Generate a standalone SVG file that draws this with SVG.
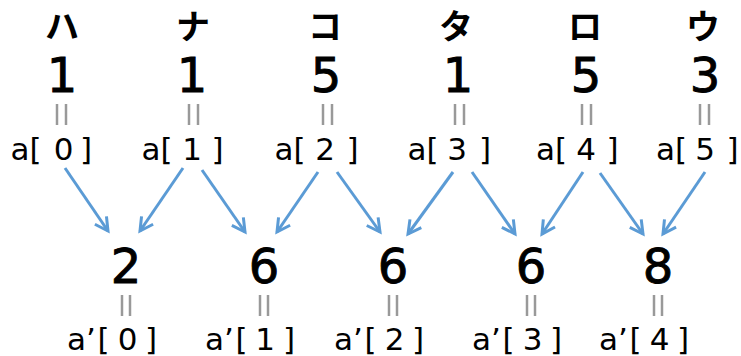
<svg xmlns="http://www.w3.org/2000/svg" width="741" height="356" viewBox="0 0 741 356">
<style>
.kana{font-family:"Noto Sans CJK JP","Noto Sans",sans-serif;font-weight:bold;font-size:34px;fill:#000;text-anchor:middle}
.num{font-family:"DejaVu Sans",sans-serif;font-size:48px;fill:#000;stroke:#000;stroke-width:0.9;text-anchor:middle}
.lbl{font-family:"DejaVu Sans",sans-serif;font-size:31px;fill:#000;text-anchor:middle}
.eq{stroke:#999;stroke-width:2.5}
.arr{stroke:#5B9BD5;stroke-width:3;fill:none;marker-end:url(#ah)}
</style>
<defs>
<marker id="ah" viewBox="0 0 18 18" refX="15" refY="9" markerWidth="18" markerHeight="18" markerUnits="userSpaceOnUse" orient="auto">
<path d="M2,2 L15,9 L2,16" fill="none" stroke="#5B9BD5" stroke-width="3"/>
</marker>
</defs>
<rect width="741" height="356" fill="#fff"/>

<g id="a0">
<text class="kana" x="62" y="39">ハ</text>
<text class="num" x="62" y="92">1</text>
<line class="eq" x1="57" y1="104" x2="57" y2="125"/><line class="eq" x1="66" y1="104" x2="66" y2="125"/>
<text class="lbl" y="160"><tspan x="26">a[</tspan><tspan x="63.5">0</tspan><tspan x="86">]</tspan></text>
</g>
<g id="a1">
<text class="kana" x="193" y="39">ナ</text>
<text class="num" x="192" y="92">1</text>
<line class="eq" x1="189" y1="104" x2="189" y2="125"/><line class="eq" x1="198" y1="104" x2="198" y2="125"/>
<text class="lbl" y="160"><tspan x="157">a[</tspan><tspan x="192">1</tspan><tspan x="217.5">]</tspan></text>
</g>
<g id="a2">
<text class="kana" x="325" y="39">コ</text>
<text class="num" x="326" y="92">5</text>
<line class="eq" x1="323" y1="104" x2="323" y2="125"/><line class="eq" x1="332" y1="104" x2="332" y2="125"/>
<text class="lbl" y="160"><tspan x="290">a[</tspan><tspan x="325">2</tspan><tspan x="352.5">]</tspan></text>
</g>
<g id="a3">
<text class="kana" x="456" y="39">タ</text>
<text class="num" x="458" y="92">1</text>
<line class="eq" x1="455" y1="104" x2="455" y2="125"/><line class="eq" x1="464" y1="104" x2="464" y2="125"/>
<text class="lbl" y="160"><tspan x="423">a[</tspan><tspan x="457">3</tspan><tspan x="485">]</tspan></text>
</g>
<g id="a4">
<text class="kana" x="585" y="39">ロ</text>
<text class="num" x="586" y="92">5</text>
<line class="eq" x1="582" y1="104" x2="582" y2="125"/><line class="eq" x1="591" y1="104" x2="591" y2="125"/>
<text class="lbl" y="160"><tspan x="551.5">a[</tspan><tspan x="586">4</tspan><tspan x="612.5">]</tspan></text>
</g>
<g id="a5">
<text class="kana" x="703" y="39">ウ</text>
<text class="num" x="705" y="92">3</text>
<line class="eq" x1="700" y1="104" x2="700" y2="125"/><line class="eq" x1="709" y1="104" x2="709" y2="125"/>
<text class="lbl" y="160"><tspan x="671.5">a[</tspan><tspan x="705">5</tspan><tspan x="732.5">]</tspan></text>
</g>

<g id="b0">
<text class="num" x="126" y="283">2</text>
<line class="eq" x1="122" y1="295" x2="122" y2="316"/><line class="eq" x1="130" y1="295" x2="130" y2="316"/>
<text class="lbl" y="350"><tspan x="81.5">a’</tspan><tspan x="103.5">[</tspan><tspan x="127.5">0</tspan><tspan x="151">]</tspan></text>
</g>
<g id="b1">
<text class="num" x="264" y="283">6</text>
<line class="eq" x1="260" y1="295" x2="260" y2="316"/><line class="eq" x1="268" y1="295" x2="268" y2="316"/>
<text class="lbl" y="350"><tspan x="219.5">a’</tspan><tspan x="241.5">[</tspan><tspan x="265">1</tspan><tspan x="289">]</tspan></text>
</g>
<g id="b2">
<text class="num" x="393" y="283">6</text>
<line class="eq" x1="389" y1="295" x2="389" y2="316"/><line class="eq" x1="397" y1="295" x2="397" y2="316"/>
<text class="lbl" y="350"><tspan x="348.5">a’</tspan><tspan x="370.5">[</tspan><tspan x="394.5">2</tspan><tspan x="418">]</tspan></text>
</g>
<g id="b3">
<text class="num" x="531" y="283">6</text>
<line class="eq" x1="527" y1="295" x2="527" y2="316"/><line class="eq" x1="535" y1="295" x2="535" y2="316"/>
<text class="lbl" y="350"><tspan x="486.5">a’</tspan><tspan x="508.5">[</tspan><tspan x="532.5">3</tspan><tspan x="556">]</tspan></text>
</g>
<g id="b4">
<text class="num" x="658" y="283">8</text>
<line class="eq" x1="654" y1="295" x2="654" y2="316"/><line class="eq" x1="662" y1="295" x2="662" y2="316"/>
<text class="lbl" y="350"><tspan x="613.5">a’</tspan><tspan x="635.5">[</tspan><tspan x="659.5">4</tspan><tspan x="683">]</tspan></text>
</g>

<g id="connectors">
<line class="arr" x1="65" y1="168" x2="108" y2="231"/>
<line class="arr" x1="183" y1="168" x2="140" y2="231"/>
<line class="arr" x1="202" y1="170" x2="245" y2="232"/>
<line class="arr" x1="318" y1="172" x2="277" y2="232"/>
<line class="arr" x1="337" y1="172" x2="380" y2="232"/>
<line class="arr" x1="453" y1="172" x2="408" y2="234"/>
<line class="arr" x1="472" y1="172" x2="515" y2="234"/>
<line class="arr" x1="583" y1="172" x2="542" y2="234"/>
<line class="arr" x1="600" y1="173" x2="643" y2="234"/>
<line class="arr" x1="705" y1="172" x2="663" y2="234"/>
</g>
</svg>
